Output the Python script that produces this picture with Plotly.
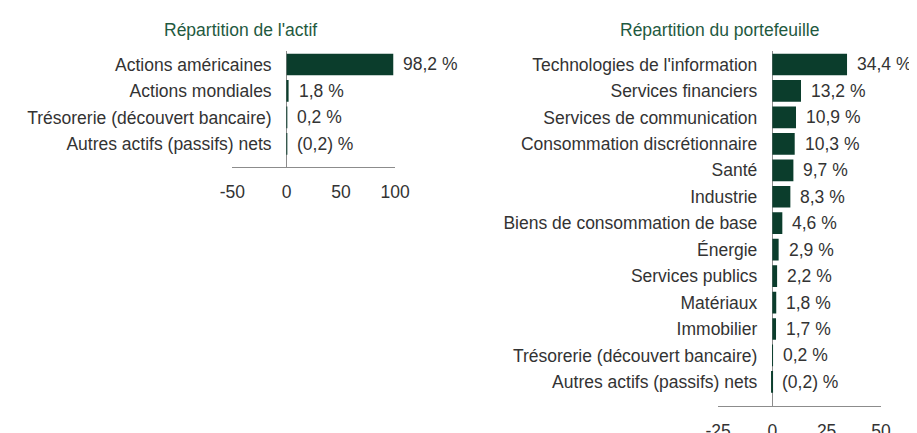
import plotly.graph_objects as go

# ---- data ----
asset_categories = ["Actions américaines", "Actions mondiales",
                    "Trésorerie (découvert bancaire)", "Autres actifs (passifs) nets"]
asset_values = [98.2, 1.8, 0.2, -0.2]
asset_labels = ["98,2 %", "1,8 %", "0,2 %", "(0,2) %"]

sector_categories = ["Technologies de l'information", "Services financiers",
                     "Services de communication", "Consommation discrétionnaire",
                     "Santé", "Industrie", "Biens de consommation de base", "Énergie",
                     "Services publics", "Matériaux", "Immobilier",
                     "Trésorerie (découvert bancaire)", "Autres actifs (passifs) nets"]
sector_values = [34.4, 13.2, 10.9, 10.3, 9.7, 8.3, 4.6, 2.9, 2.2, 1.8, 1.7, 0.2, -0.2]
sector_labels = ["34,4 %", "13,2 %", "10,9 %", "10,3 %", "9,7 %", "8,3 %", "4,6 %",
                 "2,9 %", "2,2 %", "1,8 %", "1,7 %", "0,2 %", "(0,2) %"]

asset_ticks = [-50, 0, 50, 100]
asset_tick_text = ["-50", "0", "50", "100"]
sector_ticks = [-25, 0, 25, 50]
sector_tick_text = ["-25", "0", "25", "50"]

titles = ["Répartition de l'actif", "Répartition du portefeuille"]

# ---- style ----
W, H = 917, 433
FONT = "Liberation Sans, Arial, sans-serif"
FS = 17.5
BAR = "#0b3d2c"
TXT = "#333333"
TITLE = "#1f5a3f"
GRID = "#8c8c8c"

fig = go.Figure()

fig.add_trace(go.Bar(x=asset_values, y=asset_categories, orientation="h",
                     marker=dict(color=BAR, line=dict(width=0)),
                     xaxis="x", yaxis="y", hoverinfo="skip", showlegend=False))
fig.add_trace(go.Bar(x=sector_values, y=sector_categories, orientation="h",
                     marker=dict(color=BAR, line=dict(width=0)),
                     xaxis="x2", yaxis="y2", hoverinfo="skip", showlegend=False))

annotations = []
for v, t, c in zip(asset_values, asset_labels, asset_categories):
    annotations.append(dict(x=max(v, 0), y=c, xref="x", yref="y", text=t,
                            showarrow=False, xanchor="left", xshift=8,
                            font=dict(family=FONT, size=FS, color=TXT)))
for v, t, c in zip(sector_values, sector_labels, sector_categories):
    annotations.append(dict(x=max(v, 0), y=c, xref="x2", yref="y2", text=t,
                            showarrow=False, xanchor="left", xshift=8,
                            font=dict(family=FONT, size=FS, color=TXT)))

annotations.append(dict(x=226 / W, y=1 - 22 / H, xref="paper", yref="paper",
                        text=titles[0], showarrow=False, xanchor="center", yanchor="middle",
                        font=dict(family=FONT, size=FS, color=TITLE)))
annotations.append(dict(x=720 / W, y=1 - 22 / H, xref="paper", yref="paper",
                        text=titles[1], showarrow=False, xanchor="center", yanchor="middle",
                        font=dict(family=FONT, size=FS, color=TITLE)))

ROW = 26.7
top_px = 57 - ROW / 2

def ydom(axis_px):
    return [1 - axis_px / H, 1 - top_px / H]

xcommon = dict(showgrid=False, zeroline=True, zerolinecolor=GRID, zerolinewidth=1,
               showline=True, linecolor=GRID, linewidth=1, ticks="",
               ticklabelstandoff=9, tickfont=dict(family=FONT, size=FS, color=TXT),
               fixedrange=True)
ycommon = dict(showgrid=False, zeroline=False, showline=False, ticks="",
               tickfont=dict(family=FONT, size=FS, color=TXT), ticklabelstandoff=15,
               anchor="free", fixedrange=True)

fig.update_layout(
    width=W, height=H, margin=dict(l=0, r=0, t=0, b=0),
    paper_bgcolor="white", plot_bgcolor="white", bargap=0.18,
    font=dict(family=FONT, color=TXT),
    xaxis=dict(domain=[218 / W, 386 / W], range=[-50, 100], tickvals=asset_ticks,
               ticktext=asset_tick_text, anchor="y", **xcommon),
    yaxis=dict(domain=ydom(160), range=[(160 - 57) / ROW, -0.5],
               position=274 / W, **ycommon),
    xaxis2=dict(domain=[719 / W, 887 / W], range=[-25, 50], tickvals=sector_ticks,
                ticktext=sector_tick_text, anchor="y2", **xcommon),
    yaxis2=dict(domain=ydom(402), range=[(402 - 57) / ROW, -0.5],
                position=775 / W, **ycommon),
    annotations=annotations,
)

fig.write_html("out.html")
